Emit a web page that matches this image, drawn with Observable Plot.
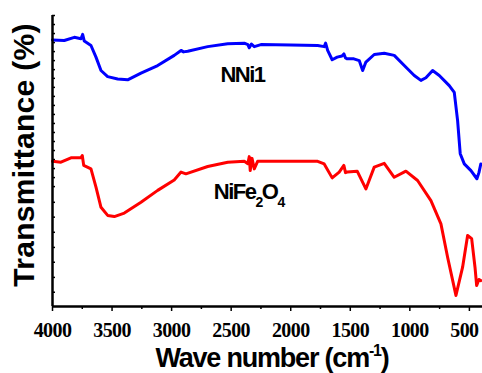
<!DOCTYPE html>
<html><head><meta charset="utf-8">
<script src="https://cdn.jsdelivr.net/npm/d3@7"></script>
<script src="https://cdn.jsdelivr.net/npm/@observablehq/plot@0.6"></script>
<style>
html,body{margin:0;padding:0;background:#fff;}
#chart svg{display:block;overflow:visible}
</style></head><body><div id="chart"></div>
<script>
// NNi1 (blue) spectrum: wavenumber (cm-1) and transmittance (arb. units)
const nniWn = [4000,3901,3817,3761,3747,3733,3677,3635,3593,3537,3453,3369,3257,3117,2978,2921,2900,2865,2697,2529,2390,2360,2348,2330,2306,2250,2000,1774,1719,1707,1690,1652,1610,1570,1554,1540,1526,1470,1425,1396,1369,1299,1215,1131,1047,963,907,865,809,753,669,627,599,577,543,487,437,420,404];
const nniT  = [91.6,91.4,92.5,92.0,93.5,91.2,89.7,85.7,81.1,79.0,78.2,77.9,80.2,82.8,86.3,88.0,87.5,87.7,89.3,90.3,90.5,90.0,88.9,90.2,89.3,90.0,89.9,89.7,89.3,90.5,88.0,84.8,85.7,86.1,86.8,85.4,85.1,85.1,84.5,81.1,84.0,86.6,87.0,86.3,82.8,79.4,77.7,78.6,81.1,79.4,75.9,73.6,63.9,52.5,49.0,46.7,43.9,46.0,49.0];
// NiFe2O4 (red) spectrum
const ferWn = [4000,3929,3845,3761,3750,3738,3677,3635,3593,3537,3481,3397,3257,3117,2978,2921,2880,2697,2529,2390,2360,2348,2340,2325,2306,2278,2000,1774,1719,1652,1593,1554,1540,1526,1442,1369,1299,1215,1131,1033,935,823,739,683,613,557,515,481,453,439,420,404];
const ferT  = [49.9,49.6,51.1,51.1,51.9,48.5,47.3,41.0,34.1,31.3,30.9,32.1,35.8,39.9,43.5,46.2,45.6,48.1,49.6,49.9,49.1,51.5,46.7,50.9,47.3,49.9,49.9,49.9,49.0,44.2,46.2,48.5,46.0,46.2,46.5,40.4,47.9,49.2,44.4,46.5,43.3,36.4,28.4,16.9,3.8,13.5,24.4,23.3,13.5,7.2,9.3,8.9];
const majorTicks = [4000,3500,3000,2500,2000,1500,1000,500];
const minorTicks = [3750,3250,2750,2250,1750,1250,750];
const yTicks = [100,96.9,93.8,90.7,87.6,84.5,81.4,78.4,75.3,72.2,69.1,66.0,62.9,59.8,56.7,53.6,50.5,47.4,44.3,41.2,35.8,30.7,25.5,20.3,15.2,10.0,4.9];
const labelText = ["NNi1","NiFe2O4"];
const labelWn = [2590,2646];
const labelT = [77.0,36.9];

const nni = nniWn.map((w,i)=>({w, t:nniT[i]}));
const fer = ferWn.map((w,i)=>({w, t:ferT[i]}));
const labels = labelText.map((s,i)=>({s, w:labelWn[i], t:labelT[i]}));
const serif = "Liberation Serif, DejaVu Serif, Times New Roman, serif";

const chart = Plot.plot({
  width:482, height:373, marginLeft:52, marginRight:0, marginTop:15, marginBottom:67,
  x:{domain:[4000,390]}, y:{domain:[0,100]},
  style:{fontFamily:"Liberation Sans, Arial, sans-serif", background:"#fff", color:"#000"},
  marks:[
    Plot.axisY({ticks:yTicks, tickSize:-3, tickFormat:()=>"", label:null, strokeWidth:1.5}),
    Plot.axisX({ticks:minorTicks, tickSize:3, tickFormat:()=>"", label:null, strokeWidth:1.5}),
    Plot.axisX({ticks:majorTicks, tickSize:5, tickPadding:11, label:null, tickFormat:d=>String(d), strokeWidth:1.5,
      fontSize:20, fontFamily:serif, fontWeight:"bold"}),
    Plot.line(nni,{x:"w",y:"t",stroke:"#0000ff",strokeWidth:3}),
    Plot.line(fer,{x:"w",y:"t",stroke:"#ff0000",strokeWidth:3}),
    Plot.ruleX([4000],{stroke:"#000",strokeWidth:2.5}),
    Plot.ruleY([0],{stroke:"#000",strokeWidth:2.5}),
    Plot.text(labels,{x:"w",y:"t",text:"s",textAnchor:"start",lineAnchor:"bottom",fontSize:22,fontWeight:"bold",fill:"#000"})
  ]
});
document.getElementById("chart").appendChild(chart);

const svg = d3.select(chart);
svg.selectAll("text").each(function(){
  const s = this.textContent;
  if (/^\d{3,4}$/.test(s)) {
    this.style.fontFamily = serif;
    this.style.fontWeight = "bold";
    this.style.fontSize = "20px";
    this.style.letterSpacing = "-0.6px";
    if (s === "500") d3.select(this).attr("dx",-5);
  }
});
// subscripts for the formula label, tighter letter spacing on labels
svg.selectAll('g[aria-label="text"] text').each(function(){
  const el = d3.select(this);
  el.style("letter-spacing","-1.5px");
  if (this.textContent === "NiFe2O4") {
    el.text(null);
    el.append("tspan").text("NiFe");
    el.append("tspan").attr("dy",8).attr("font-size",14).text("2");
    el.append("tspan").attr("dy",-8).text("O");
    el.append("tspan").attr("dy",8).attr("font-size",14).text("4");
  }
});
// axis titles
const xt = svg.append("text").attr("x",272).attr("y",367).attr("text-anchor","middle")
  .attr("font-family","Liberation Sans, Arial, sans-serif").attr("font-weight","bold")
  .attr("font-size",27).style("letter-spacing","-1.2px").attr("fill","#000");
xt.append("tspan").text("Wave number (cm");
xt.append("tspan").attr("dy",-11).attr("font-size",16).text("-1");
xt.append("tspan").attr("dy",11).text(")");
svg.append("text").attr("transform","translate(34,155) rotate(-90)")
  .attr("text-anchor","middle")
  .attr("font-family","Liberation Sans, Arial, sans-serif").attr("font-weight","bold")
  .attr("font-size",30).style("letter-spacing","0.3px").attr("fill","#000")
  .text("Transmittance (%)");
</script></body></html>
